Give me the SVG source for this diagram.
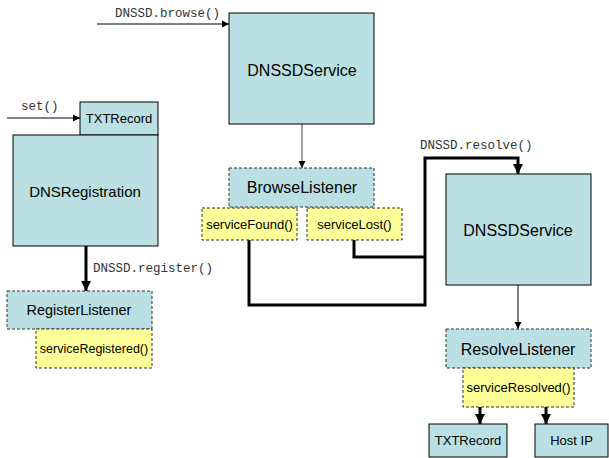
<svg xmlns="http://www.w3.org/2000/svg" width="609" height="458" viewBox="0 0 609 458">
<defs>
<style>
.box{fill:#bbe0e3;stroke:#000;stroke-width:1}
.dbox{fill:#bbe0e3;stroke:#333;stroke-width:1;stroke-dasharray:3,2}
.ybox{fill:#ffff99;stroke:#333;stroke-width:1;stroke-dasharray:3,2}
.t{font-family:"Liberation Sans",Arial,sans-serif;fill:#000;text-anchor:middle}
.m{font-family:"Liberation Mono","Courier New",monospace;fill:#333;font-size:12.5px}
.thin{fill:none;stroke:#000;stroke-width:1}
.thick{fill:none;stroke:#000;stroke-width:3}
</style>
<marker id="a" markerUnits="userSpaceOnUse" markerWidth="8" markerHeight="8" refX="7" refY="4" orient="auto">
<path d="M0,0.5 L7,4 L0,7.5 Z" fill="#000"/>
</marker>
<marker id="A" markerUnits="userSpaceOnUse" markerWidth="12" markerHeight="12" refX="10" refY="6" orient="auto">
<path d="M0,1 L10,6 L0,11 Z" fill="#000"/>
</marker>
</defs>
<g id="connectors">
<line class="thin" x1="97" y1="24" x2="229" y2="24" marker-end="url(#a)"/>
<line class="thin" x1="7" y1="118" x2="80" y2="118" marker-end="url(#a)"/>
<line class="thin" x1="302" y1="124" x2="302" y2="168" marker-end="url(#a)" style="stroke:#444"/>
<line class="thin" x1="518" y1="285" x2="518" y2="329" marker-end="url(#a)"/>
<line class="thick" x1="86" y1="246" x2="86" y2="291" marker-end="url(#A)"/>
<path class="thick" d="M249,240 V305 H425 V158 H518 V174" marker-end="url(#A)"/>
<path class="thick" d="M354,240 V257 H425"/>
<line class="thick" x1="480" y1="407" x2="480" y2="424" marker-end="url(#A)"/>
<line class="thick" x1="546" y1="407" x2="546" y2="424" marker-end="url(#A)"/>
<text class="m" x="115" y="17">DNSSD.browse()</text>
<text class="m" x="21" y="110">set()</text>
<text class="m" x="93" y="272">DNSSD.register()</text>
<text class="m" x="420" y="149">DNSSD.resolve()</text>
</g>
<g id="txtrecord-top">
<rect class="box" x="80" y="102" width="78" height="33"/>
<text class="t" x="119" y="123" font-size="13">TXTRecord</text>
</g>
<g id="dnsregistration">
<rect class="box" x="13" y="135" width="145" height="111"/>
<text class="t" x="85" y="197" font-size="15">DNSRegistration</text>
</g>
<g id="registerlistener">
<rect class="dbox" x="7" y="291" width="145" height="38"/>
<text class="t" x="79" y="315" font-size="14.4">RegisterListener</text>
</g>
<g id="serviceregistered">
<rect class="ybox" x="36" y="329" width="116" height="39"/>
<text class="t" x="94" y="353" font-size="12.5">serviceRegistered()</text>
</g>
<g id="dnssdservice-browse">
<rect class="box" x="229" y="13" width="145" height="111"/>
<text class="t" x="302" y="76" font-size="16">DNSSDService</text>
</g>
<g id="browselistener">
<rect class="dbox" x="229" y="168" width="145" height="39"/>
<text class="t" x="302" y="193" font-size="16">BrowseListener</text>
</g>
<g id="servicefound">
<rect class="ybox" x="202" y="208" width="95" height="32"/>
<text class="t" x="249.5" y="229" font-size="13">serviceFound()</text>
</g>
<g id="servicelost">
<rect class="ybox" x="307" y="208" width="95" height="32"/>
<text class="t" x="354.5" y="229" font-size="13">serviceLost()</text>
</g>
<g id="dnssdservice-resolve">
<rect class="box" x="446" y="174" width="145" height="111"/>
<text class="t" x="518" y="236" font-size="16">DNSSDService</text>
</g>
<g id="resolvelistener">
<rect class="dbox" x="446" y="329" width="145" height="39"/>
<text class="t" x="518" y="355" font-size="16">ResolveListener</text>
</g>
<g id="serviceresolved">
<rect class="ybox" x="463" y="368" width="111" height="39"/>
<text class="t" x="518.5" y="392" font-size="13">serviceResolved()</text>
</g>
<g id="txtrecord-bottom">
<rect class="box" x="429" y="424" width="78" height="33"/>
<text class="t" x="468" y="445" font-size="13">TXTRecord</text>
</g>
<g id="hostip">
<rect class="box" x="535" y="424" width="73" height="33"/>
<text class="t" x="571.5" y="445" font-size="13">Host IP</text>
</g>
</svg>
